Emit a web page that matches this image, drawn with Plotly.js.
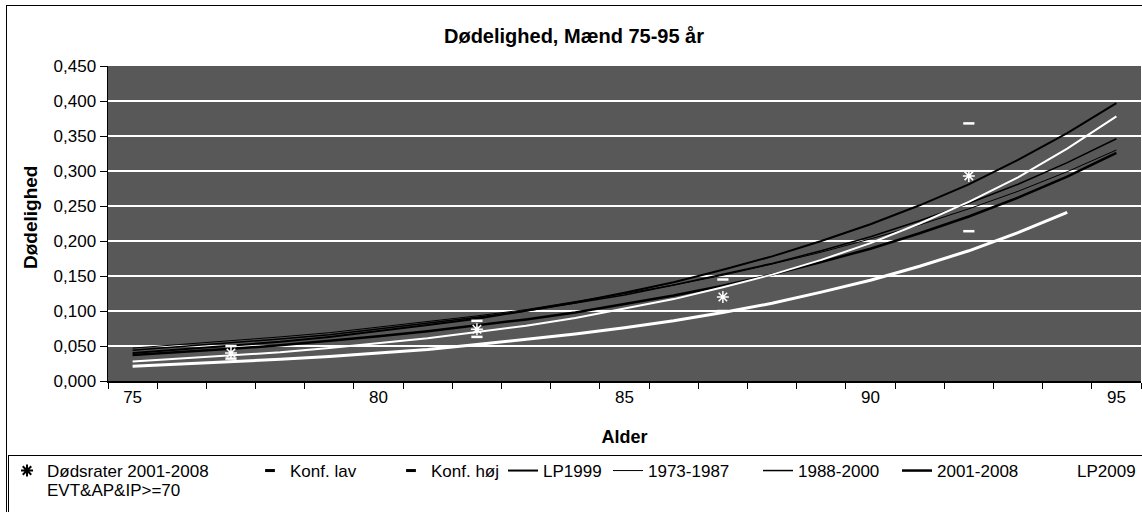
<!DOCTYPE html>
<html>
<head>
<meta charset="utf-8">
<script src="https://cdn.plot.ly/plotly-3.0.1.min.js"></script>
<style>
  html, body { margin:0; padding:0; background:#fff; overflow:hidden; width:1142px; height:512px; }
  #frame { position:absolute; left:6px; top:5px; width:1200px; height:530px; border:1.5px solid #000; z-index:0; }
  #legbox { position:absolute; left:8px; top:455px; width:1200px; height:80px; border:1.5px solid #000; z-index:0; }
  #chart { position:absolute; left:0; top:0; width:1200px; height:512px; z-index:1; }
</style>
</head>
<body>
<div id="frame"></div>
<div id="legbox"></div>
<div id="chart"></div>
<script>
// ---- data ----
const ages = [75,76,77,78,79,80,81,82,83,84,85,86,87,88,89,90,91,92,93,94,95];
const agesEvt = [75,76,77,78,79,80,81,82,83,84,85,86,87,88,89,90,91,92,93,94];

const lp1999   = [0.040,0.045,0.050,0.056,0.063,0.071,0.080,0.089,0.100,0.112,0.126,0.141,0.159,0.178,0.200,0.224,0.251,0.281,0.316,0.354,0.397];
const p1973    = [0.047,0.052,0.057,0.063,0.069,0.077,0.084,0.093,0.102,0.113,0.125,0.137,0.151,0.167,0.184,0.203,0.223,0.246,0.271,0.299,0.330];
const p1988    = [0.044,0.049,0.054,0.060,0.066,0.074,0.082,0.091,0.100,0.111,0.123,0.137,0.152,0.168,0.186,0.206,0.229,0.254,0.281,0.312,0.346];
const p2001    = [0.037,0.041,0.046,0.051,0.057,0.064,0.071,0.079,0.088,0.098,0.110,0.122,0.136,0.152,0.170,0.189,0.211,0.235,0.262,0.292,0.326];
const lp2009   = [0.028,0.032,0.036,0.041,0.047,0.054,0.061,0.070,0.079,0.090,0.103,0.117,0.134,0.152,0.173,0.197,0.225,0.256,0.291,0.332,0.378];
const evt      = [0.021,0.024,0.027,0.031,0.035,0.040,0.045,0.052,0.059,0.067,0.076,0.086,0.098,0.111,0.127,0.144,0.164,0.186,0.212,0.241];

const obsAges  = [77,82,87,92];
const obsRates = [0.040,0.074,0.120,0.293];
const konfLav  = [0.032,0.063,0.100,0.214];
const konfHoj  = [0.050,0.086,0.145,0.368];

const xTickVals  = [75,80,85,90,95];
const xTickText  = ['75','80','85','90','95'];

const names = {
  obs:'Dødsrater 2001-2008', lav:'Konf. lav', hoj:'Konf. høj',
  lp1999:'LP1999', p1973:'1973-1987', p1988:'1988-2000', p2001:'2001-2008',
  lp2009:'LP2009', evt:'EVT&AP&IP>=70'
};
const yTitle = 'Dødelighed';

const FONT = 'Liberation Sans, Arial, sans-serif';
const W = 1200, H = 512;
const PL = 108, PR = 1141, PT = 66, PB = 381;

function lineTrace(x, y, name, color, width, leg) {
  return {x:x, y:y, name:name, type:'scatter', mode:'lines', legend:leg,
          line:{color:color, width:width}, hoverinfo:'skip'};
}

const traces = [
  // legend proxies for marker series (black symbols in legend)
  {x:[null], y:[null], name:names.obs, mode:'markers', type:'scatter', legend:'legend',
   marker:{symbol:'asterisk-open', size:10, color:'#000', line:{width:2}}},
  {x:[null], y:[null], name:names.lav, mode:'markers', type:'scatter', legend:'legend2',
   marker:{symbol:'line-ew-open', size:7, color:'#000', line:{width:3}}},
  {x:[null], y:[null], name:names.hoj, mode:'markers', type:'scatter', legend:'legend3',
   marker:{symbol:'line-ew-open', size:7, color:'#000', line:{width:3}}},

  lineTrace(ages, lp1999, names.lp1999, '#000', 2, 'legend4'),
  lineTrace(ages, p1973, names.p1973, '#000', 1, 'legend5'),
  lineTrace(ages, p1988, names.p1988, '#000', 1.5, 'legend6'),
  lineTrace(ages, p2001, names.p2001, '#000', 2.5, 'legend7'),
  lineTrace(ages, lp2009, names.lp2009, '#ffffff', 2, 'legend8'),
  lineTrace(agesEvt, evt, names.evt, '#ffffff', 3, 'legend9'),

  // marker series as drawn in the plot (white on the dark area)
  {x:obsAges, y:konfLav, name:names.lav, mode:'markers', type:'scatter', showlegend:false,
   marker:{symbol:'line-ew-open', size:8, color:'#fff', line:{width:2.5}}},
  {x:obsAges, y:konfHoj, name:names.hoj, mode:'markers', type:'scatter', showlegend:false,
   marker:{symbol:'line-ew-open', size:8, color:'#fff', line:{width:2.5}}},
  {x:obsAges, y:obsRates, name:names.obs, mode:'markers', type:'scatter', showlegend:false,
   marker:{symbol:'asterisk-open', size:10, color:'#fff', line:{width:1.5}}}
];

function leg(textLeftPx, rowCenterPx) {
  return {
    xref:'container', yref:'container',
    x:(textLeftPx - 40)/W, xanchor:'left', y:1 - rowCenterPx/H, yanchor:'middle',
    bgcolor:'rgba(0,0,0,0)', borderwidth:0,
    font:{family:FONT, size:17, color:'#000'}, itemwidth:30
  };
}

const layout = {
  width:W, height:H,
  margin:{l:PL, r:W-PR, t:PT, b:H-PB, autoexpand:false},
  paper_bgcolor:'rgba(0,0,0,0)',
  plot_bgcolor:'#585858',
  separators:',.',
  font:{family:FONT, size:17, color:'#000'},
  showlegend:true,
  title:{text:'Dødelighed, Mænd 75-95 år', xref:'container', x:574/W, xanchor:'center',
         yref:'container', y:1-36/H, yanchor:'middle',
         font:{family:FONT, size:20, weight:700, color:'#000'}},
  xaxis:{
    range:[74.5, 95.5], tickmode:'array', tickvals:xTickVals, ticktext:xTickText,
    ticks:'', showgrid:false, zeroline:false,
    showline:true, linecolor:'#000', linewidth:1.5,
    tickfont:{family:FONT, size:17},
    minor:{tickmode:'linear', tick0:74.5, dtick:1, ticks:'outside', ticklen:6, tickcolor:'#000', tickwidth:1, showgrid:false},
    title:{text:'Alder', standoff:24, font:{family:FONT, size:18, weight:700}}
  },
  yaxis:{
    range:[0, 0.45], dtick:0.05, tick0:0, tickformat:'.3f',
    ticks:'outside', ticklen:7, tickcolor:'#000', tickwidth:1,
    showline:true, linecolor:'#000', linewidth:1.5,
    showgrid:true, gridcolor:'#ffffff', gridwidth:1.5, zeroline:false,
    tickfont:{family:FONT, size:17}
  },
  annotations:[{
    text:yTitle, textangle:-90, showarrow:false,
    xref:'paper', x:(31-PL)/(PR-PL), xanchor:'center',
    yref:'paper', y:(PB-218)/(PB-PT), yanchor:'middle',
    font:{family:FONT, size:19, weight:700, color:'#000'}
  }],
  legend:  leg(47, 471),
  legend2: leg(290, 471),
  legend3: leg(431, 471),
  legend4: leg(543, 471),
  legend5: leg(648, 471),
  legend6: leg(798, 471),
  legend7: leg(937, 471),
  legend8: leg(1077, 471),
  legend9: leg(47, 490)
};

Plotly.newPlot('chart', traces, layout, {displayModeBar:false, staticPlot:true});
</script>
</body>
</html>
